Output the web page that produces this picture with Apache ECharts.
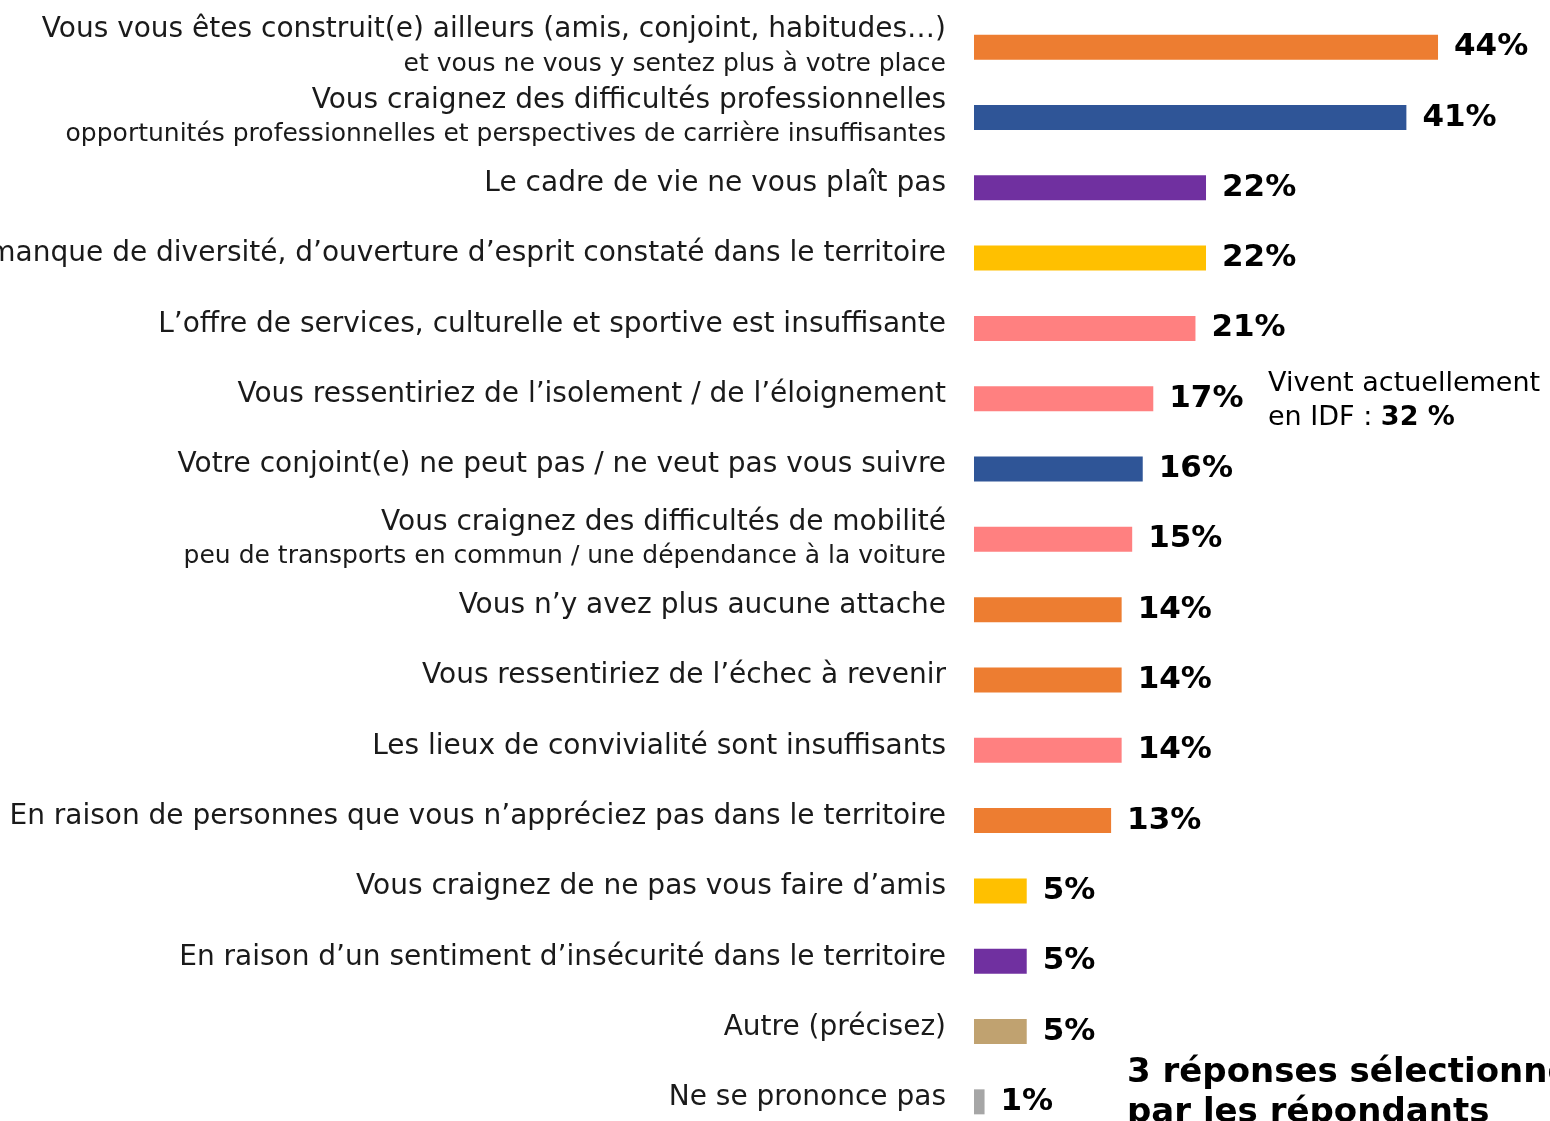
<!DOCTYPE html>
<html lang="fr">
<head>
<meta charset="utf-8">
<title>Raisons de ne pas revenir</title>
<script src="https://cdn.jsdelivr.net/npm/echarts@6/dist/echarts.min.js"></script>
<style>
  html, body { margin: 0; padding: 0; background: #ffffff; }
  #chart { width: 1550px; height: 1121px; }
</style>
</head>
<body>
<div id="chart"></div>
<script>
// Main reason labels (top to bottom)
const categories = [
  "Vous vous êtes construit(e) ailleurs (amis, conjoint, habitudes…)",
  "Vous craignez des difficultés professionnelles",
  "Le cadre de vie ne vous plaît pas",
  "Le manque de diversité, d’ouverture d’esprit constaté dans le territoire",
  "L’offre de services, culturelle et sportive est insuffisante",
  "Vous ressentiriez de l’isolement / de l’éloignement",
  "Votre conjoint(e) ne peut pas / ne veut pas vous suivre",
  "Vous craignez des difficultés de mobilité",
  "Vous n’y avez plus aucune attache",
  "Vous ressentiriez de l’échec à revenir",
  "Les lieux de convivialité sont insuffisants",
  "En raison de personnes que vous n’appréciez pas dans le territoire",
  "Vous craignez de ne pas vous faire d’amis",
  "En raison d’un sentiment d’insécurité dans le territoire",
  "Autre (précisez)",
  "Ne se prononce pas"
];

// Secondary detail line under some labels
const subtitles = [
  "et vous ne vous y sentez plus à votre place",
  "opportunités professionnelles et perspectives de carrière insuffisantes",
  "", "", "", "", "",
  "peu de transports en commun / une dépendance à la voiture",
  "", "", "", "", "", "", "", ""
];

// Share of respondents (%)
const values = [44, 41, 22, 22, 21, 17, 16, 15, 14, 14, 14, 13, 5, 5, 5, 1];

// Theme colour of each reason
const barColors = [
  "#ED7D31", "#2F5597", "#7030A0", "#FFC000", "#FF8080", "#FF8080",
  "#2F5597", "#FF8080", "#ED7D31", "#ED7D31", "#FF8080", "#ED7D31",
  "#FFC000", "#7030A0", "#C0A270", "#A6A6A6"
];

const noteLines = ["Vivent actuellement", "en IDF : ", "32 %"];
const footLines = ["3 réponses sélectionnées", "par les répondants"];

const FONT = "'DejaVu Sans', sans-serif";

const chart = echarts.init(document.getElementById("chart"), null, { renderer: "canvas" });

const labelKeys = categories.map((c, i) => subtitles[i] ? c + "\n" + subtitles[i] : c);

chart.setOption({
  backgroundColor: "#ffffff",
  animation: false,
  // fixed plot box: long labels may run off the left edge, the last row past the bottom
  grid: {
    left: 974, width: 527.3, top: 12, height: 1125,
    containLabel: false,
    outerBoundsMode: "none"
  },
  xAxis: {
    type: "value",
    min: 0,
    max: 50,
    show: false
  },
  yAxis: {
    type: "category",
    inverse: true,
    data: labelKeys,
    axisLine: { show: false },
    axisTick: { show: false },
    splitLine: { show: false },
    axisLabel: {
      margin: 28,
      align: "right",
      interval: 0,
      color: "#1a1a1a",
      fontFamily: FONT,
      formatter: function (v) {
        const parts = v.split("\n");
        if (parts.length > 1) {
          return "{a|" + parts[0] + "}\n{b|" + parts[1] + "}";
        }
        return "{s|" + parts[0] + "}";
      },
      rich: {
        a: { fontFamily: FONT, fontSize: 28, color: "#1a1a1a", lineHeight: 34, align: "right" },
        b: { fontFamily: FONT, fontSize: 25, color: "#1a1a1a", lineHeight: 34, align: "right" },
        s: { fontFamily: FONT, fontSize: 28, color: "#1a1a1a", lineHeight: 34, align: "right", padding: [0, 0, 8, 0] }
      }
    }
  },
  series: [{
    type: "bar",
    barWidth: 25,
    data: values.map((v, i) => ({ value: v, itemStyle: { color: barColors[i] } })),
    label: {
      show: true,
      position: "right",
      distance: 16,
      formatter: "{c}%",
      fontFamily: FONT,
      fontWeight: "bold",
      fontSize: 31,
      color: "#000000",
      padding: [13, 0, 0, 0]
    }
  }],
  graphic: [
    {
      type: "text",
      left: 1268,
      top: 370,
      style: {
        text: "{n|" + noteLines[0] + "}\n{n|" + noteLines[1] + "}{bd|" + noteLines[2] + "}",
        rich: {
          n: { fontFamily: FONT, fontSize: 27, color: "#1a1a1a", lineHeight: 34 },
          bd: { fontFamily: FONT, fontSize: 27, fontWeight: "bold", color: "#000000", lineHeight: 34 }
        }
      }
    },
    {
      type: "text",
      left: 1127,
      top: 1053,
      style: {
        text: footLines.join("\n"),
        fontFamily: FONT,
        fontSize: 34,
        fontWeight: "bold",
        lineHeight: 40,
        fill: "#000000"
      }
    }
  ]
});
</script>
</body>
</html>
